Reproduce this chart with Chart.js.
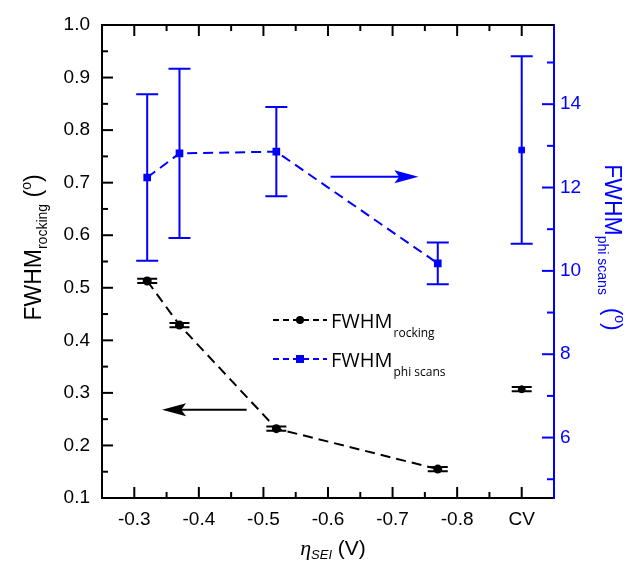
<!DOCTYPE html>
<html><head><meta charset="utf-8">
<script src="https://cdn.jsdelivr.net/npm/chart.js@4/dist/chart.umd.min.js"></script>
<style>html,body{margin:0;padding:0;background:#fff}</style>
</head><body>
<canvas id="c" width="629" height="572"></canvas>
<script>
// ---- data ----
const etaValues = [-0.32, -0.37, -0.52, -0.77];
const cvPosition = [-0.9];
const rockingValues = [0.513, 0.429, 0.232, 0.155];
const rockingErrors = [0.004, 0.004, 0.004, 0.004];
const rockingCV = [0.307];
const rockingCVError = [0.004];
const phiValues = [12.24, 12.82, 12.86, 10.18];
const phiErrors = [2.0, 2.03, 1.07, 0.5];
const phiCV = [12.90];
const phiCVError = [2.25];
const xTickValues = [-0.3, -0.4, -0.5, -0.6, -0.7, -0.8, -0.9];
const xTickLabels = ['-0.3', '-0.4', '-0.5', '-0.6', '-0.7', '-0.8', 'CV'];
const xMinorTicks = [-0.35, -0.45, -0.55, -0.65, -0.75, -0.85];
const yLeftTicks = [0.1, 0.2, 0.3, 0.4, 0.5, 0.6, 0.7, 0.8, 0.9, 1.0];
const yLeftLabels = ['0.1', '0.2', '0.3', '0.4', '0.5', '0.6', '0.7', '0.8', '0.9', '1.0'];
const yLeftMinor = [0.15, 0.25, 0.35, 0.45, 0.55, 0.65, 0.75, 0.85, 0.95];
const yRightTicks = [6, 8, 10, 12, 14];
const yRightLabels = ['6', '8', '10', '12', '14'];
const yRightMinor = [5, 7, 9, 11, 13, 15];
// arrows (annotation, in data coordinates)
const arrowLeft = { axis: 'y', x0: -0.474, x1: -0.343, y: 0.268 };
const arrowRight = { axis: 'y2', x0: -0.604, x1: -0.740, y: 12.26 };

const BLUE = '#0000ff';
const SANS = '"Liberation Sans", Arial, sans-serif';
const pts = (xs, ys) => xs.map((x, i) => ({ x: x, y: ys[i] }));

const decor = {
  id: 'decor',
  beforeDatasetsDraw(chart) {
    const ctx = chart.ctx;
    chart.data.datasets.forEach((ds, i) => {
      if (!ds.errors) return;
      const ys = chart.scales[ds.yAxisID];
      const xs = chart.scales.x;
      const cap = ds.capHalf;
      ctx.save();
      ctx.strokeStyle = ds.borderColor; ctx.lineWidth = 2; ctx.setLineDash([]);
      ds.data.forEach((p, j) => {
        const px = xs.getPixelForValue(p.x);
        const yt = ys.getPixelForValue(p.y + ds.errors[j]);
        const yb = ys.getPixelForValue(p.y - ds.errors[j]);
        ctx.beginPath();
        ctx.moveTo(px, yt); ctx.lineTo(px, yb);
        ctx.moveTo(px - cap, yt); ctx.lineTo(px + cap, yt);
        ctx.moveTo(px - cap, yb); ctx.lineTo(px + cap, yb);
        ctx.stroke();
      });
      ctx.restore();
    });
  },
  afterDraw(chart) {
    const ctx = chart.ctx, ca = chart.chartArea;
    const sx = chart.scales.x, sy = chart.scales.y, sy2 = chart.scales.y2;
    ctx.save();
    ctx.setLineDash([]);
    const arrow = (a, color) => {
      const ys = chart.scales[a.axis];
      const x0 = sx.getPixelForValue(a.x0), x1 = sx.getPixelForValue(a.x1);
      const y = ys.getPixelForValue(a.y);
      const dir = Math.sign(x1 - x0), head = 24, hw = 6.5;
      ctx.strokeStyle = color; ctx.fillStyle = color; ctx.lineWidth = 2;
      ctx.beginPath(); ctx.moveTo(x0, y); ctx.lineTo(x1 - dir * head * 0.7, y); ctx.stroke();
      ctx.beginPath();
      ctx.moveTo(x1, y);
      ctx.lineTo(x1 - dir * head, y - hw);
      ctx.lineTo(x1 - dir * head * 0.8, y);
      ctx.lineTo(x1 - dir * head, y + hw);
      ctx.closePath(); ctx.fill();
    };
    arrow(arrowLeft, '#000');
    arrow(arrowRight, BLUE);

    // frame: top border and inward tick marks
    const MAJ = 11, MIN = 6;
    const TICK = '#000000';
    const seg = (xa, ya, xb, yb, color, w) => {
      ctx.strokeStyle = color; ctx.lineWidth = w || 2;
      ctx.beginPath(); ctx.moveTo(xa, ya); ctx.lineTo(xb, yb); ctx.stroke();
    };
    const top = sy.getPixelForValue(1.0), bot = sy.getPixelForValue(0.1);
    const lft = sx.getPixelForValue(-0.25), rgt = sx.getPixelForValue(-0.95);
    seg(lft - 1, top, rgt, top, TICK, 2);
    const xt = (v, len) => {
      const p = sx.getPixelForValue(v);
      seg(p, bot, p, bot - len, TICK);
      seg(p, top, p, top + len, TICK);
    };
    xTickValues.forEach(v => xt(v, MAJ));
    xMinorTicks.forEach(v => xt(v, MIN));
    const lt = (v, len) => { const p = sy.getPixelForValue(v); seg(lft, p, lft + len, p, TICK); };
    yLeftTicks.forEach(v => lt(v, MAJ));
    yLeftMinor.forEach(v => lt(v, MIN));
    const rt = (v, len) => { const p = sy2.getPixelForValue(v); seg(rgt, p, rgt - len, p, BLUE); };
    yRightTicks.forEach(v => rt(v, MAJ + 1));
    yRightMinor.forEach(v => rt(v, MIN + 1));

    const drawParts = (parts, color) => {
      let w = 0;
      parts.forEach(p => { ctx.font = p.font; p.w = ctx.measureText(p.t).width; w += p.w; });
      let x = -w / 2;
      ctx.fillStyle = color; ctx.textBaseline = 'alphabetic'; ctx.textAlign = 'left';
      parts.forEach(p => { ctx.font = p.font; ctx.fillText(p.t, x, p.dy); x += p.w; });
    };
    // left title
    ctx.save();
    ctx.translate(41, (ca.top + ca.bottom) / 2 - 14);
    ctx.rotate(-Math.PI / 2);
    drawParts([
      { t: 'FWHM', font: '23px ' + SANS, dy: 0 },
      { t: 'rocking', font: '14px ' + SANS, dy: 6 },
      { t: ' (', font: '23px ' + SANS, dy: 0 },
      { t: 'o', font: '14px ' + SANS, dy: -10 },
      { t: ')', font: '23px ' + SANS, dy: 0 }
    ], '#000');
    ctx.restore();
    // right title
    ctx.save();
    ctx.translate(605, (ca.top + ca.bottom) / 2 - 14);
    ctx.rotate(Math.PI / 2);
    drawParts([
      { t: 'FWHM', font: '23px ' + SANS, dy: 0 },
      { t: 'phi scans', font: '14px ' + SANS, dy: 7 },
      { t: '  (', font: '23px ' + SANS, dy: 0 },
      { t: 'o', font: '14px ' + SANS, dy: -10 },
      { t: ')', font: '23px ' + SANS, dy: 0 }
    ], BLUE);
    ctx.restore();
    // x title
    ctx.save();
    ctx.translate((ca.left + ca.right) / 2 + 5, 555);
    drawParts([
      { t: 'η', font: 'italic 22px "Liberation Serif", serif', dy: 0 },
      { t: 'SEI', font: 'italic 13px ' + SANS, dy: 4 },
      { t: ' (V)', font: '21px ' + SANS, dy: 0 }
    ], '#000');
    ctx.restore();

    // legend
    const LF = '"Open Sans", sans-serif';
    const lx0 = ca.left + 171, lx1 = ca.left + 225, lmx = ca.left + 198;
    const legend = [
      { y: 320, color: '#000', sub: 'rocking', marker: 'circle' },
      { y: 359, color: BLUE, sub: 'phi scans', marker: 'rect' }
    ];
    legend.forEach(L => {
      ctx.strokeStyle = L.color; ctx.fillStyle = L.color; ctx.lineWidth = 2;
      ctx.setLineDash([6, 4]);
      ctx.beginPath(); ctx.moveTo(lx0, L.y); ctx.lineTo(lx1, L.y); ctx.stroke();
      ctx.setLineDash([]);
      ctx.beginPath();
      if (L.marker === 'circle') { ctx.arc(lmx, L.y, 4, 0, Math.PI * 2); ctx.fill(); }
      else { ctx.fillRect(lmx - 4, L.y - 4, 8, 8); }
      ctx.fillStyle = '#000';
      ctx.textAlign = 'left'; ctx.textBaseline = 'alphabetic';
      ctx.font = '20px ' + LF;
      ctx.fillText('FWHM', lx1 + 4, L.y + 8);
      const w = ctx.measureText('FWHM').width;
      ctx.font = '12px ' + LF;
      ctx.fillText(L.sub, lx1 + 5 + w, L.y + 17);
    });
    ctx.restore();
  }
};

const chart = new Chart(document.getElementById('c'), {
  type: 'line',
  data: {
    datasets: [
      {
        label: 'FWHM rocking', data: pts(etaValues, rockingValues), errors: rockingErrors, capHalf: 10,
        yAxisID: 'y', borderColor: '#000', backgroundColor: '#000', borderWidth: 2, borderDash: [10, 6],
        pointStyle: 'circle', pointRadius: 3.5, pointBackgroundColor: '#000', tension: 0
      },
      {
        label: 'FWHM rocking CV', data: pts(cvPosition, rockingCV), errors: rockingCVError, capHalf: 10,
        yAxisID: 'y', borderColor: '#000', backgroundColor: '#000', showLine: false,
        pointStyle: 'circle', pointRadius: 3.5
      },
      {
        label: 'FWHM phi scans', data: pts(etaValues, phiValues), errors: phiErrors, capHalf: 11,
        yAxisID: 'y2', borderColor: BLUE, backgroundColor: BLUE, borderWidth: 2, borderDash: [10, 6],
        pointStyle: 'rect', pointRadius: 4, pointBackgroundColor: BLUE, tension: 0
      },
      {
        label: 'FWHM phi scans CV', data: pts(cvPosition, phiCV), errors: phiCVError, capHalf: 11,
        yAxisID: 'y2', borderColor: BLUE, backgroundColor: BLUE, showLine: false,
        pointStyle: 'rect', pointRadius: 4
      }
    ]
  },
  options: {
    responsive: false, animation: false, devicePixelRatio: 1,
    layout: { padding: { top: 25, left: 0, right: 0, bottom: 0 } },
    plugins: { legend: { display: false }, tooltip: { enabled: false } },
    scales: {
      x: {
        type: 'linear', position: 'bottom', reverse: true, min: -0.95, max: -0.25,
        grid: { display: false, drawTicks: false },
        border: { display: true, color: '#000', width: 2 },
        afterBuildTicks: s => { s.ticks = xTickValues.map(v => ({ value: v })); },
        ticks: { color: '#000', font: { family: SANS, size: 19 }, padding: 10, maxRotation: 0, autoSkip: false,
          callback: (v, i) => xTickLabels[i] },
        afterFit: s => { s.height = 74; }
      },
      y: {
        type: 'linear', position: 'left', min: 0.1, max: 1.0,
        grid: { display: false, drawTicks: false },
        border: { display: true, color: '#000', width: 2 },
        afterBuildTicks: s => { s.ticks = yLeftTicks.map(v => ({ value: v })); },
        ticks: { color: '#000', font: { family: SANS, size: 19 }, padding: 12, autoSkip: false,
          callback: (v, i) => yLeftLabels[i] },
        afterFit: s => { s.width = 102; }
      },
      y2: {
        type: 'linear', position: 'right', min: 4.55, max: 15.9,
        grid: { display: false, drawTicks: false },
        border: { display: true, color: BLUE, width: 2 },
        afterBuildTicks: s => { s.ticks = yRightTicks.map(v => ({ value: v })); },
        ticks: { color: BLUE, font: { family: SANS, size: 19 }, padding: 6, autoSkip: false,
          callback: (v, i) => yRightLabels[i] },
        afterFit: s => { s.width = 75; }
      }
    }
  },
  plugins: [decor]
});
</script>
</body></html>
